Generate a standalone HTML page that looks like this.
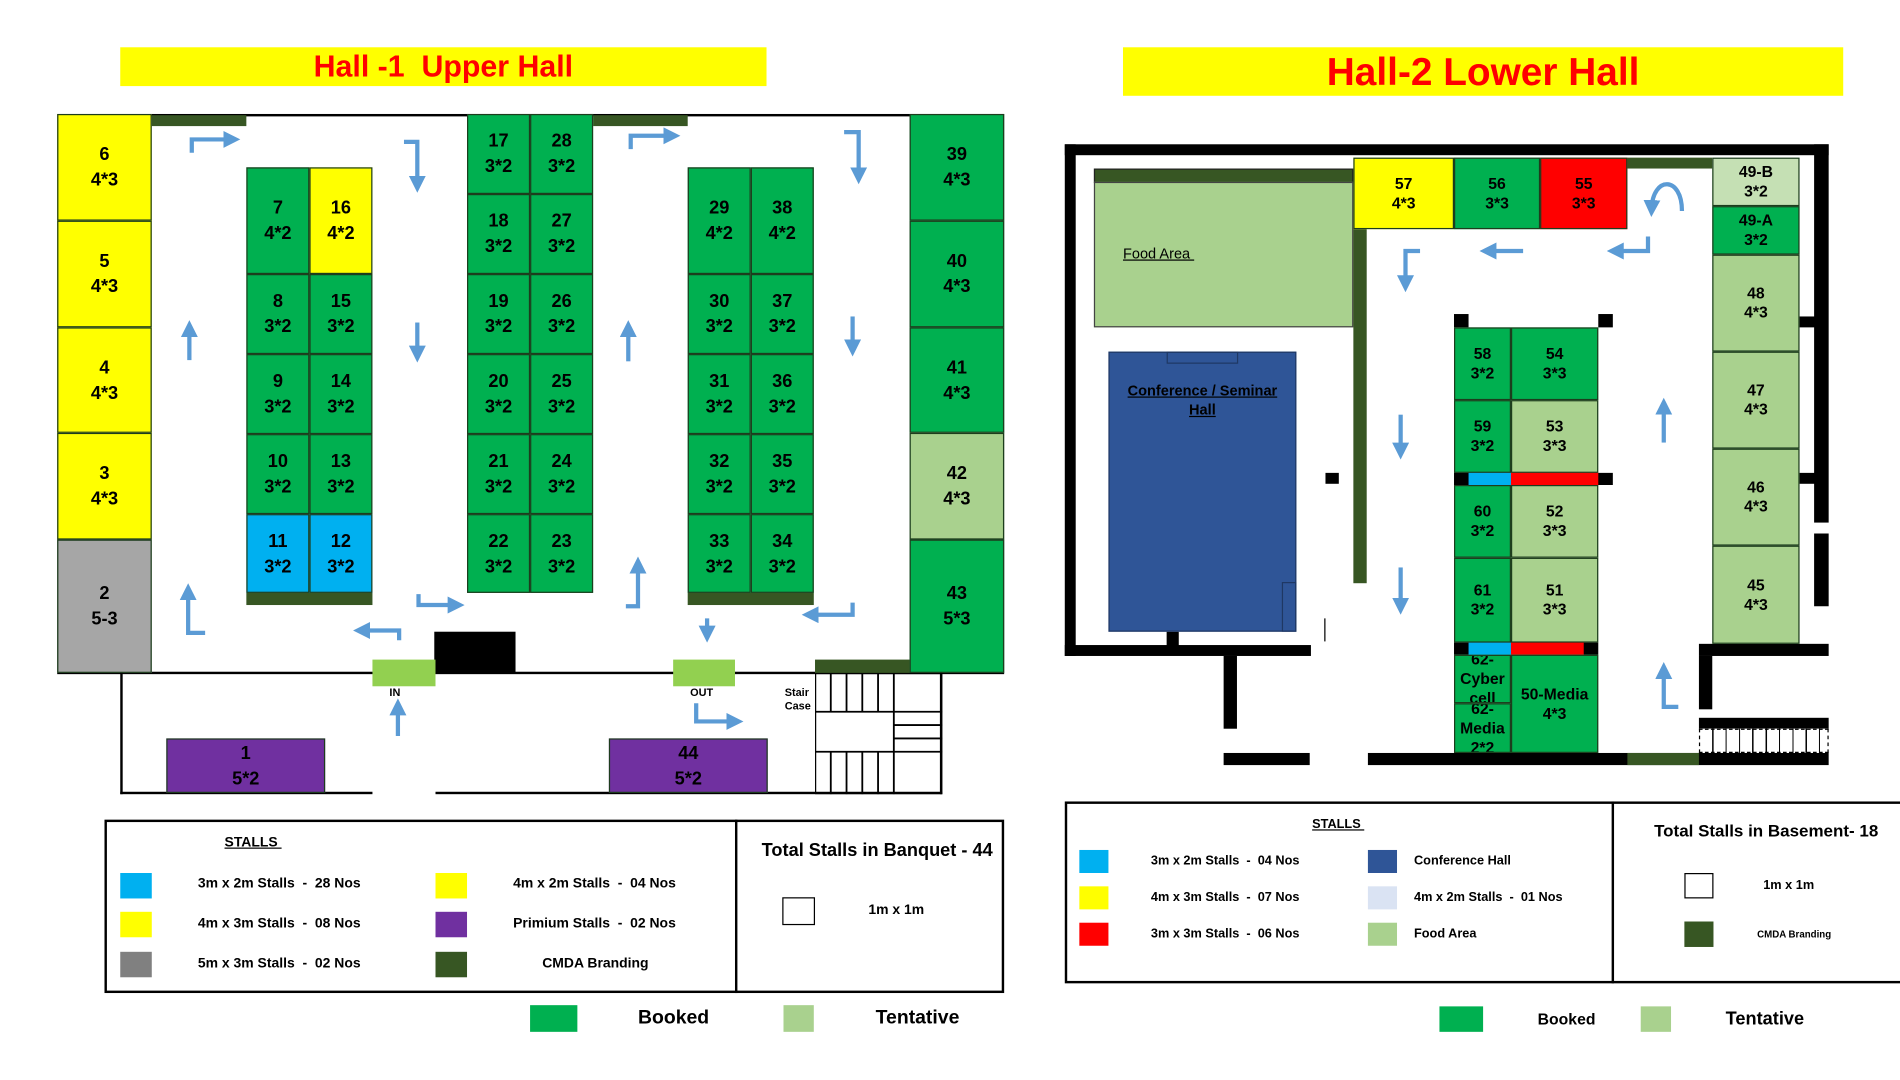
<!DOCTYPE html>
<html><head><meta charset="utf-8"><style>
html,body{margin:0;padding:0;background:#fff;}
body{width:1900px;height:1080px;overflow:hidden;position:relative;font-family:"Liberation Sans",sans-serif;}
#w{position:absolute;left:-1px;top:0;width:1568px;height:890px;transform:scale(1.2125);transform-origin:0 0;}
.a{position:absolute;box-sizing:border-box;}
.c{position:absolute;box-sizing:border-box;border:1px solid #1d3d1d;display:flex;align-items:center;justify-content:center;text-align:center;font-weight:bold;font-size:15px;line-height:21px;color:#000;}
.g{background:#00b050}.y{background:#ffff00}.l{background:#a9d18e}.b{background:#00b0f0}.r{background:#ff0000}.p{background:#7030a0}.gr{background:#a6a6a6}.d{background:#375623}.k{background:#000}
.s{font-size:13px;line-height:16px}
.t{position:absolute;font-weight:bold;font-size:11.5px;white-space:nowrap;}
</style></head><body><div id="w">
<!-- Hall 1 -->
<div class="a y" style="left:100px;top:39px;width:533px;height:32px;color:#f00;font-weight:bold;font-size:25px;text-align:center;line-height:32px">Hall -1&nbsp; Upper Hall</div>
<div class="a" style="left:48px;top:94px;width:781px;height:462px;border:2px solid #000"></div>
<div class="c y" style="left:48px;top:94px;width:78px;height:88px">6<br>4*3</div>
<div class="c y" style="left:48px;top:182px;width:78px;height:88px">5<br>4*3</div>
<div class="c y" style="left:48px;top:270px;width:78px;height:87px">4<br>4*3</div>
<div class="c y" style="left:48px;top:357px;width:78px;height:88px">3<br>4*3</div>
<div class="c gr" style="left:48px;top:445px;width:78px;height:110px">2<br>5-3</div>
<div class="c g" style="left:751px;top:94px;width:78px;height:88px">39<br>4*3</div>
<div class="c g" style="left:751px;top:182px;width:78px;height:88px">40<br>4*3</div>
<div class="c g" style="left:751px;top:270px;width:78px;height:87px">41<br>4*3</div>
<div class="c l" style="left:751px;top:357px;width:78px;height:88px">42<br>4*3</div>
<div class="c g" style="left:751px;top:445px;width:78px;height:110px">43<br>5*3</div>
<div class="a d" style="left:126px;top:95px;width:78px;height:9px"></div>
<div class="a d" style="left:490px;top:95px;width:78px;height:9px"></div>
<!-- block A -->
<div class="c g" style="left:204px;top:138px;width:52px;height:88px">7<br>4*2</div>
<div class="c y" style="left:256px;top:138px;width:52px;height:88px">16<br>4*2</div>
<div class="c g" style="left:204px;top:226px;width:52px;height:66px">8<br>3*2</div>
<div class="c g" style="left:256px;top:226px;width:52px;height:66px">15<br>3*2</div>
<div class="c g" style="left:204px;top:292px;width:52px;height:66px">9<br>3*2</div>
<div class="c g" style="left:256px;top:292px;width:52px;height:66px">14<br>3*2</div>
<div class="c g" style="left:204px;top:358px;width:52px;height:66px">10<br>3*2</div>
<div class="c g" style="left:256px;top:358px;width:52px;height:66px">13<br>3*2</div>
<div class="c b" style="left:204px;top:424px;width:52px;height:65px">11<br>3*2</div>
<div class="c b" style="left:256px;top:424px;width:52px;height:65px">12<br>3*2</div>
<div class="a d" style="left:204px;top:489px;width:104px;height:10px"></div>
<!-- block B -->
<div class="c g" style="left:386px;top:94px;width:52px;height:66px">17<br>3*2</div>
<div class="c g" style="left:438px;top:94px;width:52px;height:66px">28<br>3*2</div>
<div class="c g" style="left:386px;top:160px;width:52px;height:66px">18<br>3*2</div>
<div class="c g" style="left:438px;top:160px;width:52px;height:66px">27<br>3*2</div>
<div class="c g" style="left:386px;top:226px;width:52px;height:66px">19<br>3*2</div>
<div class="c g" style="left:438px;top:226px;width:52px;height:66px">26<br>3*2</div>
<div class="c g" style="left:386px;top:292px;width:52px;height:66px">20<br>3*2</div>
<div class="c g" style="left:438px;top:292px;width:52px;height:66px">25<br>3*2</div>
<div class="c g" style="left:386px;top:358px;width:52px;height:66px">21<br>3*2</div>
<div class="c g" style="left:438px;top:358px;width:52px;height:66px">24<br>3*2</div>
<div class="c g" style="left:386px;top:424px;width:52px;height:65px">22<br>3*2</div>
<div class="c g" style="left:438px;top:424px;width:52px;height:65px">23<br>3*2</div>
<!-- block C -->
<div class="c g" style="left:568px;top:138px;width:52px;height:88px">29<br>4*2</div>
<div class="c g" style="left:620px;top:138px;width:52px;height:88px">38<br>4*2</div>
<div class="c g" style="left:568px;top:226px;width:52px;height:66px">30<br>3*2</div>
<div class="c g" style="left:620px;top:226px;width:52px;height:66px">37<br>3*2</div>
<div class="c g" style="left:568px;top:292px;width:52px;height:66px">31<br>3*2</div>
<div class="c g" style="left:620px;top:292px;width:52px;height:66px">36<br>3*2</div>
<div class="c g" style="left:568px;top:358px;width:52px;height:66px">32<br>3*2</div>
<div class="c g" style="left:620px;top:358px;width:52px;height:66px">35<br>3*2</div>
<div class="c g" style="left:568px;top:424px;width:52px;height:65px">33<br>3*2</div>
<div class="c g" style="left:620px;top:424px;width:52px;height:65px">34<br>3*2</div>
<div class="a d" style="left:568px;top:489px;width:104px;height:10px"></div>
<!-- lower area -->
<div class="a k" style="left:100px;top:555px;width:2px;height:100px"></div>
<div class="a k" style="left:100px;top:653px;width:208px;height:2px"></div>
<div class="a k" style="left:360px;top:653px;width:418px;height:2px"></div>
<div class="a k" style="left:776px;top:555px;width:2px;height:100px"></div>
<div class="a k" style="left:359px;top:521px;width:67px;height:34px"></div>
<div class="a" style="left:308px;top:544px;width:52px;height:22px;background:#92d050"></div>
<div class="a" style="left:556px;top:544px;width:51px;height:22px;background:#92d050"></div>
<div class="a d" style="left:673px;top:544px;width:78px;height:11px"></div>
<div class="a" style="left:673px;top:555px;width:105px;height:100px;border:1.5px solid #000"></div>
<svg class="a" style="left:673px;top:555px" width="105" height="100"><g stroke="#000" stroke-width="1.5"><line x1="13" y1="0" x2="13" y2="32"/><line x1="26" y1="0" x2="26" y2="32"/><line x1="39" y1="0" x2="39" y2="32"/><line x1="52" y1="0" x2="52" y2="32"/><line x1="65" y1="0" x2="65" y2="32"/><line x1="0" y1="32" x2="105" y2="32"/><line x1="65" y1="32" x2="65" y2="65"/><line x1="65" y1="43" x2="105" y2="43"/><line x1="65" y1="54" x2="105" y2="54"/><line x1="0" y1="65" x2="105" y2="65"/><line x1="13" y1="65" x2="13" y2="100"/><line x1="26" y1="65" x2="26" y2="100"/><line x1="39" y1="65" x2="39" y2="100"/><line x1="52" y1="65" x2="52" y2="100"/><line x1="65" y1="65" x2="65" y2="100"/></g></svg>
<div class="c p" style="left:138px;top:609px;width:131px;height:45px">1<br>5*2</div>
<div class="c p" style="left:503px;top:609px;width:131px;height:45px">44<br>5*2</div>
<div class="t" style="left:322px;top:566px;font-size:9px">IN</div>
<div class="t" style="left:570px;top:566px;font-size:9px">OUT</div>
<div class="t" style="left:648px;top:566px;font-size:9px;line-height:11px">Stair<br>Case</div>
<!-- Hall 2 -->
<div class="a y" style="left:927px;top:39px;width:594px;height:40px;color:#f00;font-weight:bold;font-size:32px;text-align:center;line-height:40px">Hall-2 Lower Hall</div>
<div class="a k" style="left:879px;top:119px;width:630px;height:9px"></div>
<div class="a k" style="left:879px;top:119px;width:9px;height:422px"></div>
<div class="a k" style="left:879px;top:532px;width:203px;height:9px"></div>
<div class="a k" style="left:1497px;top:119px;width:12px;height:312px"></div>
<div class="a k" style="left:1497px;top:440px;width:12px;height:60px"></div>
<div class="a k" style="left:1485px;top:261px;width:15px;height:9px"></div>
<div class="a k" style="left:1485px;top:390px;width:15px;height:9px"></div>
<div class="a k" style="left:963px;top:521px;width:10px;height:12px"></div>
<div class="a k" style="left:1010px;top:541px;width:11px;height:60px"></div>
<div class="a k" style="left:1010px;top:621px;width:71px;height:10px"></div>
<div class="a k" style="left:1129px;top:621px;width:380px;height:10px"></div>
<div class="a d" style="left:1343px;top:621px;width:59px;height:10px"></div>
<div class="a k" style="left:1402px;top:531px;width:107px;height:10px"></div>
<div class="a k" style="left:1402px;top:541px;width:11px;height:44px"></div>
<div class="a k" style="left:1402px;top:592px;width:107px;height:9px"></div>
<div class="a" style="left:1402px;top:601px;width:107px;height:20px;border:1px dashed #000;background:repeating-linear-gradient(90deg,#fff 0 10px,#000 10px 11px)"></div>
<div class="a" style="left:1093px;top:510px;width:1px;height:19px;background:#000"></div>
<div class="a d" style="left:903px;top:139px;width:214px;height:12px;border:1px solid #222"></div>
<div class="a l" style="left:903px;top:150px;width:214px;height:120px;border:1px solid #444"></div>
<div class="t" style="left:927px;top:202px;font-weight:normal;font-size:12px;text-decoration:underline">Food Area&nbsp;</div>
<div class="a d" style="left:1117px;top:189px;width:11px;height:292px"></div>
<div class="a" style="left:915px;top:290px;width:155px;height:231px;background:#2f5597;border:1px solid #1f3864"></div>
<div class="a" style="left:963px;top:290px;width:59px;height:10px;border:1px solid #1f3864"></div>
<div class="a" style="left:1058px;top:480px;width:12px;height:41px;border:1px solid #1f3864"></div>
<div class="t" style="left:915px;top:314px;width:155px;text-align:center;font-size:12px;line-height:16px;text-decoration:underline;color:#000">Conference / Seminar<br>Hall</div>
<div class="a k" style="left:1094px;top:390px;width:11px;height:9px"></div>
<div class="c y s" style="left:1117px;top:130px;width:83px;height:59px">57<br>4*3</div>
<div class="c g s" style="left:1200px;top:130px;width:71px;height:59px">56<br>3*3</div>
<div class="c r s" style="left:1271px;top:130px;width:72px;height:59px">55<br>3*3</div>
<div class="a d" style="left:1343px;top:130px;width:70px;height:9px"></div>
<div class="c s" style="left:1413px;top:130px;width:72px;height:40px;background:#c5e0b4">49-B<br>3*2</div>
<div class="c g s" style="left:1413px;top:170px;width:72px;height:40px">49-A<br>3*2</div>
<div class="c l s" style="left:1413px;top:210px;width:72px;height:80px">48<br>4*3</div>
<div class="c l s" style="left:1413px;top:290px;width:72px;height:80px">47<br>4*3</div>
<div class="c l s" style="left:1413px;top:370px;width:72px;height:80px">46<br>4*3</div>
<div class="c l s" style="left:1413px;top:450px;width:72px;height:81px">45<br>4*3</div>
<div class="a k" style="left:1200px;top:259px;width:12px;height:11px"></div>
<div class="a k" style="left:1319px;top:259px;width:12px;height:11px"></div>
<div class="c g s" style="left:1200px;top:270px;width:47px;height:60px">58<br>3*2</div>
<div class="c g s" style="left:1247px;top:270px;width:72px;height:60px">54<br>3*3</div>
<div class="c g s" style="left:1200px;top:330px;width:47px;height:60px">59<br>3*2</div>
<div class="c l s" style="left:1247px;top:330px;width:72px;height:60px">53<br>3*3</div>
<div class="a k" style="left:1200px;top:390px;width:131px;height:10px"></div>
<div class="a b" style="left:1212px;top:390px;width:35px;height:10px"></div>
<div class="a r" style="left:1247px;top:390px;width:72px;height:10px"></div>
<div class="c g s" style="left:1200px;top:400px;width:47px;height:60px">60<br>3*2</div>
<div class="c l s" style="left:1247px;top:400px;width:72px;height:60px">52<br>3*3</div>
<div class="c g s" style="left:1200px;top:460px;width:47px;height:70px">61<br>3*2</div>
<div class="c l s" style="left:1247px;top:460px;width:72px;height:70px">51<br>3*3</div>
<div class="a k" style="left:1200px;top:530px;width:119px;height:10px"></div>
<div class="a b" style="left:1212px;top:530px;width:35px;height:10px"></div>
<div class="a r" style="left:1247px;top:530px;width:60px;height:10px"></div>
<div class="c g s" style="left:1200px;top:540px;width:47px;height:40px;overflow:hidden">62-<br>Cyber<br>cell</div>
<div class="c g s" style="left:1200px;top:580px;width:47px;height:41px;overflow:hidden">62-<br>Media<br>2*2</div>
<div class="c g s" style="left:1247px;top:540px;width:72px;height:81px">50-Media<br>4*3</div>
<!-- arrows -->
<svg class="a" style="left:0;top:0" width="1554" height="884">
<defs><marker id="m" markerWidth="4" markerHeight="4" refX="2" refY="2" orient="auto"><path d="M0,0L4,2L0,4z" fill="#5b9bd5"/></marker></defs>
<g fill="none" stroke="#5b9bd5" stroke-width="3.5" marker-end="url(#m)">
<path d="M159,126V115H192"/><path d="M334,117H345V152"/><path d="M345,266V292"/><path d="M157,297V271"/>
<path d="M170,522H156V488"/><path d="M330,528V520H299"/><path d="M346,490V499H377"/><path d="M519,298V271"/>
<path d="M517,500H527V466"/><path d="M521,123V112H555"/><path d="M697,109H709V145"/><path d="M704,261V287"/>
<path d="M704,497V507H669"/><path d="M584,510V523"/><path d="M329,607V583"/><path d="M575,580V595H607"/>
<path d="M1172,207H1160V234"/><path d="M1257,207H1228"/><path d="M1360,195V207H1333"/><path d="M1388,174C1388,145 1364,145 1363,172"/>
<path d="M1156,342V372"/><path d="M1156,468V500"/><path d="M1373,365V335"/><path d="M1385,583H1373V553"/>
</g></svg>
<!-- legend 1 -->
<div class="a" style="left:87px;top:676px;width:742px;height:143px;border:2px solid #000"></div>
<div class="a k" style="left:607px;top:676px;width:2px;height:143px"></div>
<div class="t" style="left:186px;top:689px;text-decoration:underline">STALLS&nbsp;</div>
<div class="a b" style="left:100px;top:720px;width:26px;height:21px"></div>
<div class="a y" style="left:100px;top:752px;width:26px;height:21px"></div>
<div class="a gr" style="left:100px;top:785px;width:26px;height:21px;background:#808080"></div>
<div class="t" style="left:164px;top:723px">3m x 2m Stalls&nbsp; -&nbsp; 28 Nos</div>
<div class="t" style="left:164px;top:756px">4m x 3m Stalls&nbsp; -&nbsp; 08 Nos</div>
<div class="t" style="left:164px;top:789px">5m x 3m Stalls&nbsp; -&nbsp; 02 Nos</div>
<div class="a y" style="left:360px;top:720px;width:26px;height:21px"></div>
<div class="a p" style="left:360px;top:752px;width:26px;height:21px"></div>
<div class="a d" style="left:360px;top:785px;width:26px;height:21px"></div>
<div class="t" style="left:424px;top:723px">4m x 2m Stalls&nbsp; -&nbsp; 04 Nos</div>
<div class="t" style="left:424px;top:756px">Primium Stalls&nbsp; -&nbsp; 02 Nos</div>
<div class="t" style="left:448px;top:789px">CMDA Branding</div>
<div class="t" style="left:629px;top:693px;font-size:15px">Total Stalls in Banquet - 44</div>
<div class="a" style="left:646px;top:740px;width:27px;height:23px;border:1.5px solid #000"></div>
<div class="t" style="left:717px;top:745px">1m x 1m</div>
<div class="a g" style="left:438px;top:829px;width:39px;height:22px"></div>
<div class="t" style="left:527px;top:831px;font-size:16px">Booked</div>
<div class="a l" style="left:647px;top:829px;width:25px;height:22px"></div>
<div class="t" style="left:723px;top:831px;font-size:16px">Tentative</div>
<!-- legend 2 -->
<div class="a" style="left:879px;top:661px;width:700px;height:150px;border:2px solid #000"></div>
<div class="a k" style="left:1330px;top:661px;width:2px;height:150px"></div>
<div class="t" style="left:1083px;top:674px;font-size:10.5px;text-decoration:underline">STALLS&nbsp;</div>
<div class="a b" style="left:891px;top:701px;width:24px;height:19px"></div>
<div class="a y" style="left:891px;top:731px;width:24px;height:19px"></div>
<div class="a r" style="left:891px;top:761px;width:24px;height:19px"></div>
<div class="t" style="left:950px;top:704px;font-size:10.5px">3m x 2m Stalls&nbsp; -&nbsp; 04 Nos</div>
<div class="t" style="left:950px;top:734px;font-size:10.5px">4m x 3m Stalls&nbsp; -&nbsp; 07 Nos</div>
<div class="t" style="left:950px;top:764px;font-size:10.5px">3m x 3m Stalls&nbsp; -&nbsp; 06 Nos</div>
<div class="a" style="left:1129px;top:701px;width:24px;height:19px;background:#2f5597"></div>
<div class="a" style="left:1129px;top:731px;width:24px;height:19px;background:#dae3f3"></div>
<div class="a l" style="left:1129px;top:761px;width:24px;height:19px"></div>
<div class="t" style="left:1167px;top:704px;font-size:10.5px">Conference Hall</div>
<div class="t" style="left:1167px;top:734px;font-size:10.5px">4m x 2m Stalls&nbsp; -&nbsp; 01 Nos</div>
<div class="t" style="left:1167px;top:764px;font-size:10.5px">Food Area</div>
<div class="t" style="left:1365px;top:677px;font-size:14px">Total Stalls in Basement- 18</div>
<div class="a" style="left:1390px;top:720px;width:24px;height:21px;border:1.5px solid #000"></div>
<div class="t" style="left:1455px;top:724px;font-size:10.5px">1m x 1m</div>
<div class="a d" style="left:1390px;top:760px;width:24px;height:21px"></div>
<div class="t" style="left:1450px;top:766px;font-size:8px">CMDA Branding</div>
<div class="a g" style="left:1188px;top:830px;width:36px;height:21px"></div>
<div class="t" style="left:1269px;top:833px;font-size:13px">Booked</div>
<div class="a l" style="left:1354px;top:830px;width:25px;height:21px"></div>
<div class="t" style="left:1424px;top:832px;font-size:15px">Tentative</div>
</div></body></html>
